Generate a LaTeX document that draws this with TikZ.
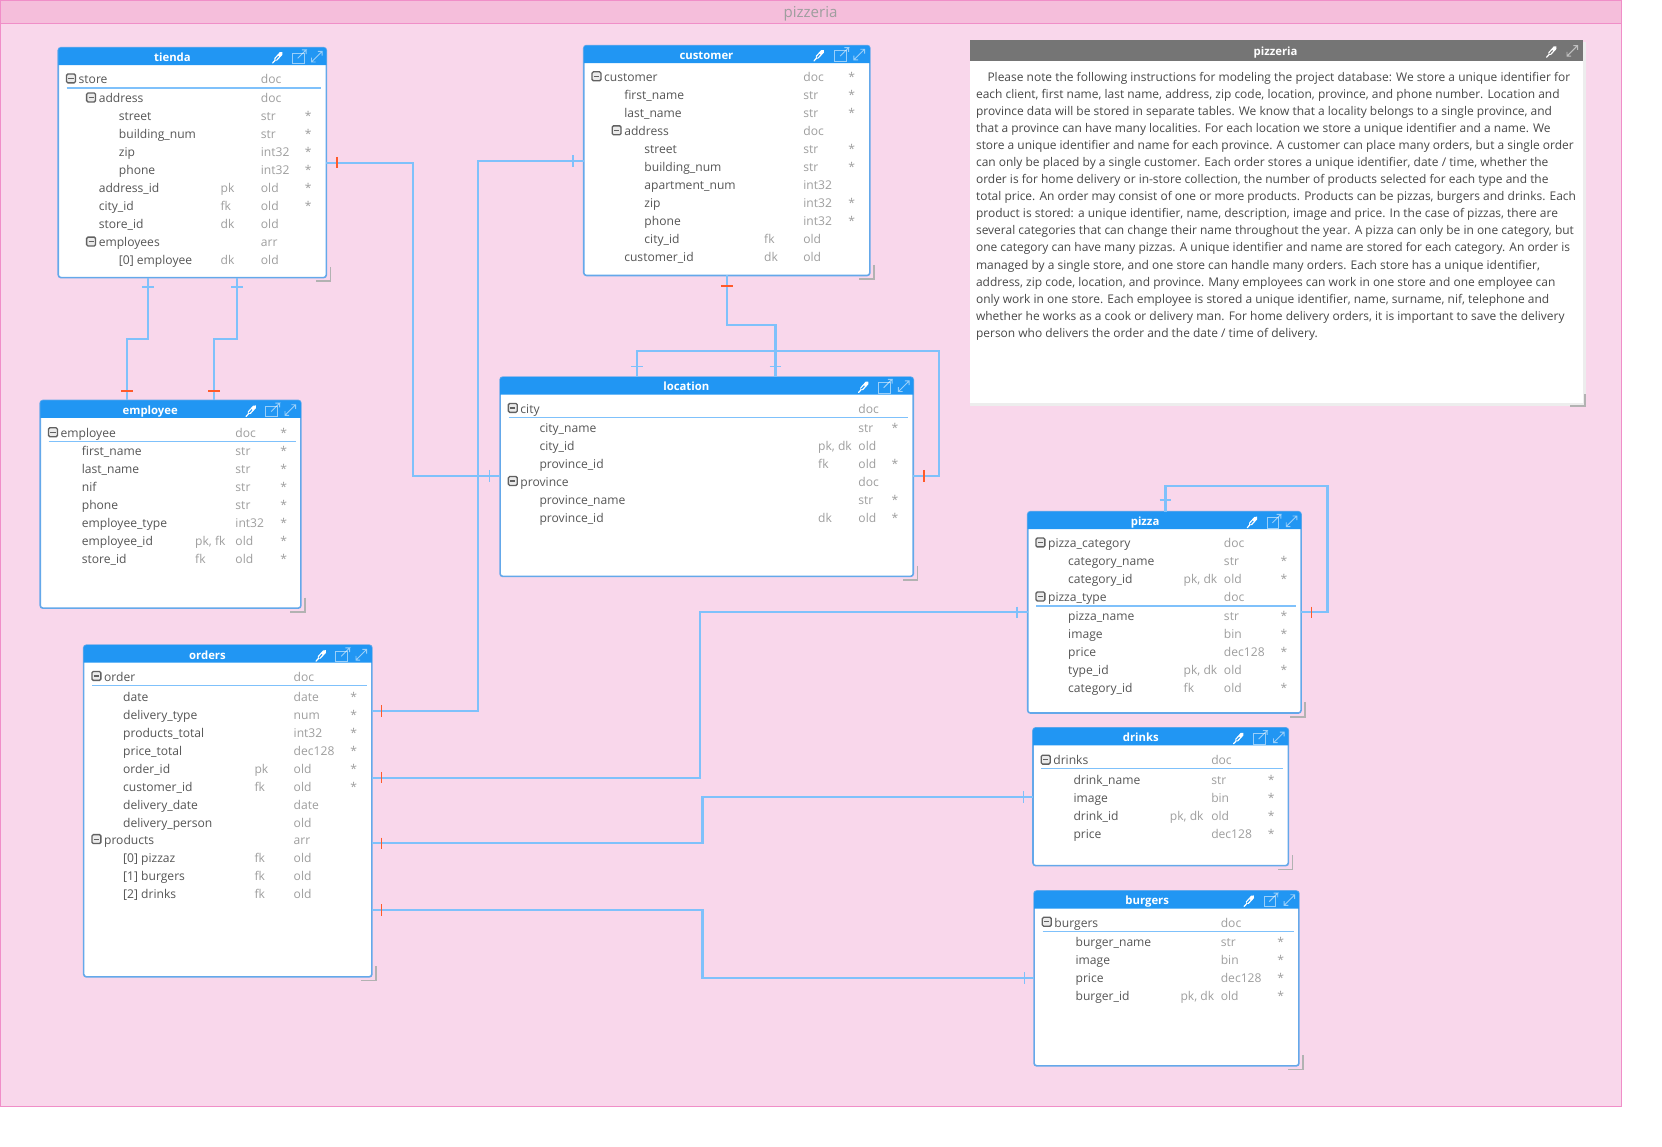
\documentclass[tikz,border=0pt]{standalone}
\usepackage{fontspec}
\setmainfont{Open Sans}
\definecolor{canvasbg}{HTML}{F9D7EB}
\definecolor{canvasbar}{HTML}{F5BEDB}
\definecolor{canvasline}{HTML}{F08EC8}
\definecolor{hdrblue}{HTML}{2196F3}
\definecolor{tblline}{HTML}{64A8EA}
\definecolor{connblue}{HTML}{7FC1FB}
\definecolor{tickred}{HTML}{FF5A2B}
\definecolor{txtmain}{HTML}{555555}
\definecolor{txtgrey}{HTML}{9E9E9E}
\definecolor{noteshead}{HTML}{757575}
\def\s{0.7946pt}
\newcounter{cellno}
\tikzset{
  tablebox/.style={draw=tblline,line width=1.2pt,fill=white,rounded corners=2pt,inner sep=0pt,outer sep=0pt},
  hdr/.style={fill=hdrblue},
  hdrtitle/.style={font=\fontsize{8.5pt}{11pt}\selectfont\bfseries,text=white,inner sep=0pt,anchor=base},
  celltext/.style={font=\fontsize{9.07pt}{11pt}\selectfont,text=txtmain,inner sep=0pt,anchor=base west},
  cellgrey/.style={celltext,text=txtgrey},
  conn/.style={draw=connblue,line width=1.6pt},
  tickb/.style={draw=connblue,line width=1.1pt},
  tickr/.style={draw=tickred,line width=1.1pt},
  handle/.style={draw=black!30,line width=1.2pt},
  ruleline/.style={draw=connblue,line width=1pt},
  minusbox/.style={draw=black!62,fill=black!8,line width=1pt,rounded corners=1pt},
  icon/.style={draw=white,line width=0.7pt,opacity=0.55},
}
\newcommand{\Dropper}[3]{%
  \draw[white,line width=2.8pt,line cap=round] (#1-2.2,#2+2.5) -- (#1+2.8,#2-3);
  \draw[#3,line width=0.8pt] (#1-2.4,#2+2.7) -- (#1+0.4,#2-0.4);
  \draw[white,line width=0.9pt,line cap=round] (#1-5.2,#2+6) -- (#1-3,#2+3.6);
}
\newcommand{\Icons}[4]{%
  \Dropper{#1+0.5}{#4}{hdrblue}
  % open in new window
  \draw[icon] (#2-6,#4-3.5) rectangle (#2+5,#4+6.5);
  \draw[icon] (#2-1,#4+1.5) -- (#2+7,#4-6.5) -- (#2+3,#4-6.5) (#2+7,#4-6.5) -- (#2+7,#4-2.5);
  % expand
  \draw[icon] (#3-5,#4+5) -- (#3+5,#4-5) (#3+1,#4-5) -- (#3+5,#4-5) -- (#3+5,#4-1) (#3-5,#4+1) -- (#3-5,#4+5) -- (#3-1,#4+5);
}
\newcommand{\Tbl}[7]{%
  \node[tablebox,minimum width={(#4-#2)*\s},minimum height={(#5-#3)*\s}] (#1) at ({(#2+#4)/2},{(#3+#5)/2}) {};
  \fill[hdr] (#2,#3+16.5) [rounded corners=2pt] -- (#2,#3) -- (#4,#3) [sharp corners] -- (#4,#3+16.5) -- cycle;
  \node[hdrtitle] (#1title) at (#7+0.8,#3+13) {#6};
  \draw[handle] (#4+4,#5-10) -- (#4+4,#5+3.5) -- (#4-10,#5+3.5);
}
\newcommand{\Cols}[3]{\def\kx{#1}\def\tx{#2}\def\sx{#3}}
% row: y, x, name, key, type, star(* or empty)
\newcommand{\Rw}[6]{%
  \stepcounter{cellno}\node[celltext] (c\arabic{cellno}) at (#2,#1+5) {#3};
  \if\relax\detokenize{#4}\relax\else\stepcounter{cellno}\node[cellgrey] (c\arabic{cellno}) at (\kx,#1+5) {#4};\fi
  \stepcounter{cellno}\node[cellgrey] (c\arabic{cellno}) at (\tx,#1+5) {#5};
  \if\relax\detokenize{#6}\relax\else\stepcounter{cellno}\node[cellgrey,anchor=base] (c\arabic{cellno}) at (\sx+0.8,#1+5) {*};\fi
}
% group row with minus box: y, boxx, name, type, star
\newcommand{\Gp}[5]{%
  \draw[minusbox] (#2-4.2,#1-4.2) rectangle (#2+4.2,#1+4.2);
  \draw[black!62,line width=0.9pt] (#2-2.4,#1) -- (#2+2.4,#1);
  \Rw{#1}{#2+7}{#3}{}{#4}{#5}
}
\newcommand{\TickV}[3]{\draw[#1] (#2,#3-5.5) -- (#2,#3+5.5);}
\newcommand{\TickH}[3]{\draw[#1] (#2-5.5,#3) -- (#2+5.5,#3);}
\begin{document}
\begin{tikzpicture}[x=\s,y=-\s]
\useasboundingbox (0,0) rectangle (1568.7,1082.5);
\fill[white] (0,0) rectangle (1568.7,1082.5);
\fill[canvasbg] (0,0) rectangle (1530.5,1044);
\fill[canvasbar] (0,0) rectangle (1530.5,22);
\draw[canvasline,line width=0.8pt] (0.4,0.4) rectangle (1530.5,1044);
\draw[canvasline,line width=0.8pt] (0,22) -- (1530.5,22);
\node[font=\fontsize{11.3pt}{13pt}\selectfont,text=txtgrey,inner sep=0pt,anchor=base] (canvastitle) at (765,16.5) {pizzeria};

% note
\fill[black!7] (916,40) rectangle (1497,383);
\node[fill=white,inner sep=0pt,outer sep=0pt,minimum width={578*\s},minimum height={342*\s}] (note) at (1205,209) {};
\fill[noteshead] (916,38) rectangle (1494,58);
\node[hdrtitle] (notetitle) at (1204,52.5) {pizzeria};
\Dropper{1465}{48}{noteshead}
\draw[icon] (1479,53) -- (1489,43) (1485,43) -- (1489,43) -- (1489,47) (1479,49) -- (1479,53) -- (1483,53);
\node[inner sep=0pt,anchor=north west,align=left,text=txtmain!85!black,font=\fontsize{8.98pt}{12.82pt}\selectfont] (notetext) at (921,67.6) {%
\hspace*{8.6pt}Please note the following instructions for modeling the project database: We store a unique identifier for\\
each client, first name, last name, address, zip code, location, province, and phone number. Location and\\
province data will be stored in separate tables. We know that a locality belongs to a single province, and\\
that a province can have many localities. For each location we store a unique identifier and a name. We\\
store a unique identifier and name for each province. A customer can place many orders, but a single order\\
can only be placed by a single customer. Each order stores a unique identifier, date / time, whether the\\
order is for home delivery or in-store collection, the number of products selected for each type and the\\
total price. An order may consist of one or more products. Products can be pizzas, burgers and drinks. Each\\
product is stored: a unique identifier, name, description, image and price. In the case of pizzas, there are\\
several categories that can change their name throughout the year. A pizza can only be in one category, but\\
one category can have many pizzas. A unique identifier and name are stored for each category. An order is\\
managed by a single store, and one store can handle many orders. Each store has a unique identifier,\\
address, zip code, location, and province. Many employees can work in one store and one employee can\\
only work in one store. Each employee is stored a unique identifier, name, surname, nif, telephone and\\
whether he works as a cook or delivery man. For home delivery orders, it is important to save the delivery\\
person who delivers the order and the date / time of delivery.};
\draw[handle] (1496,372) -- (1496,383) -- (1482,383);

% tienda
\Tbl{tienda}{55}{45}{308}{262}{tienda}{162}
\Icons{262}{282}{299}{53.5}
\Cols{208}{246}{290}
\Gp{74}{67}{store}{doc}{}
\draw[ruleline] (63,83) -- (303,83);
\Gp{92}{86}{address}{doc}{}
\Rw{109}{112}{street}{}{str}{*}
\Rw{126}{112}{building\_num}{}{str}{*}
\Rw{143}{112}{zip}{}{int32}{*}
\Rw{160}{112}{phone}{}{int32}{*}
\Rw{177}{93}{address\_id}{pk}{old}{*}
\Rw{194}{93}{city\_id}{fk}{old}{*}
\Rw{211}{93}{store\_id}{dk}{old}{}
\Gp{228}{86}{employees}{arr}{}
\Rw{245}{112}{[0] employee}{dk}{old}{}

% customer
\Tbl{customer}{551}{43}{821}{260}{customer}{666}
\Icons{773}{794}{811}{51.5}
\Cols{721}{758}{803}
\Gp{72}{563}{customer}{doc}{*}
\Rw{89}{589}{first\_name}{}{str}{*}
\Rw{106}{589}{last\_name}{}{str}{*}
\Gp{123}{582}{address}{doc}{}
\Rw{140}{608}{street}{}{str}{*}
\Rw{157}{608}{building\_num}{}{str}{*}
\Rw{174}{608}{apartment\_num}{}{int32}{}
\Rw{191}{608}{zip}{}{int32}{*}
\Rw{208}{608}{phone}{}{int32}{*}
\Rw{225}{608}{city\_id}{fk}{old}{}
\Rw{242}{589}{customer\_id}{dk}{old}{}

% location
\Tbl{location}{472}{356}{862}{544}{location}{647}
\Icons{815}{835}{853}{364.5}
\Cols{772}{810}{844}
\Gp{385}{484}{city}{doc}{}
\draw[ruleline] (480,394) -- (857,394);
\Rw{403}{509}{city\_name}{}{str}{*}
\Rw{420}{509}{city\_id}{pk, dk}{old}{}
\Rw{437}{509}{province\_id}{fk}{old}{*}
\Gp{454}{484}{province}{doc}{}
\Rw{471}{509}{province\_name}{}{str}{*}
\Rw{488}{509}{province\_id}{dk}{old}{*}

% employee
\Tbl{employee}{38}{378}{284}{574}{employee}{141}
\Icons{237}{257}{274}{387}
\Cols{184}{222}{267}
\Gp{408}{50}{employee}{doc}{*}
\draw[ruleline] (46,416.5) -- (279,416.5);
\Rw{425}{77}{first\_name}{}{str}{*}
\Rw{442}{77}{last\_name}{}{str}{*}
\Rw{459}{77}{nif}{}{str}{*}
\Rw{476}{77}{phone}{}{str}{*}
\Rw{493}{77}{employee\_type}{}{int32}{*}
\Rw{510}{77}{employee\_id}{pk, fk}{old}{*}
\Rw{527}{77}{store\_id}{fk}{old}{*}

% orders
\Tbl{orders}{79}{609}{351}{922}{orders}{195}
\Icons{303}{323}{341}{618}
\Cols{240}{277}{333}
\Gp{638}{91}{order}{doc}{}
\draw[ruleline] (87,647) -- (346,647);
\Rw{657}{116}{date}{}{date}{*}
\Rw{674}{116}{delivery\_type}{}{num}{*}
\Rw{691}{116}{products\_total}{}{int32}{*}
\Rw{708}{116}{price\_total}{}{dec128}{*}
\Rw{725}{116}{order\_id}{pk}{old}{*}
\Rw{742}{116}{customer\_id}{fk}{old}{*}
\Rw{759}{116}{delivery\_date}{}{date}{}
\Rw{776}{116}{delivery\_person}{}{old}{}
\Gp{792}{91}{products}{arr}{}
\Rw{809}{116}{[0] pizzaz}{fk}{old}{}
\Rw{826}{116}{[1] burgers}{fk}{old}{}
\Rw{843}{116}{[2] drinks}{fk}{old}{}

% pizza
\Tbl{pizza}{970}{483}{1228}{673}{pizza}{1080}
\Icons{1182}{1202}{1219}{492}
\Cols{1117}{1155}{1211}
\Gp{512}{982}{pizza\_category}{doc}{}
\Rw{529}{1008}{category\_name}{}{str}{*}
\Rw{546}{1008}{category\_id}{pk, dk}{old}{*}
\Gp{563}{982}{pizza\_type}{doc}{}
\draw[ruleline] (978,572) -- (1223,572);
\Rw{581}{1008}{pizza\_name}{}{str}{*}
\Rw{598}{1008}{image}{}{bin}{*}
\Rw{615}{1008}{price}{}{dec128}{*}
\Rw{632}{1008}{type\_id}{pk, dk}{old}{*}
\Rw{649}{1008}{category\_id}{fk}{old}{*}

% drinks
\Tbl{drinks}{975}{687}{1216}{817}{drinks}{1076}
\Icons{1169}{1189}{1207}{696}
\Cols{1104}{1143}{1199}
\Gp{717}{987}{drinks}{doc}{}
\draw[ruleline] (983,725.5) -- (1211,725.5);
\Rw{735}{1013}{drink\_name}{}{str}{*}
\Rw{752}{1013}{image}{}{bin}{*}
\Rw{769}{1013}{drink\_id}{pk, dk}{old}{*}
\Rw{786}{1013}{price}{}{dec128}{*}

% burgers
\Tbl{burgers}{976}{841}{1226}{1006}{burgers}{1082}
\Icons{1179}{1199}{1217}{849.5}
\Cols{1114}{1152}{1208}
\Gp{870}{988}{burgers}{doc}{}
\draw[ruleline] (984,879) -- (1221,879);
\Rw{888}{1015}{burger\_name}{}{str}{*}
\Rw{905}{1015}{image}{}{bin}{*}
\Rw{922}{1015}{price}{}{dec128}{*}
\Rw{939}{1015}{burger\_id}{pk, dk}{old}{*}

% connectors
\draw[conn] (tienda.east |- 0,153.5) -- (390,153.5) -- (390,449) -- (location.west |- 0,449);
\TickV{tickr}{318}{153.5}\TickV{tickb}{462}{449}
\draw[conn] (tienda.south -| 139.5,0) -- (139.5,320) -- (120,320) -- (employee.north -| 120,0);
\TickH{tickb}{139.5}{271}\TickH{tickr}{120}{369}
\draw[conn] (tienda.south -| 224,0) -- (224,320) -- (202,320) -- (employee.north -| 202,0);
\TickH{tickb}{224}{271}\TickH{tickr}{202}{369}
\draw[conn] (customer.south -| 686,0) -- (686,307) -- (732,307) -- (location.north -| 732,0);
\TickH{tickr}{686}{270}\TickH{tickb}{732}{346}
\draw[conn] (location.north -| 601,0) -- (601,331) -- (886,331) -- (886,449) -- (location.east |- 0,449);
\TickH{tickb}{601}{346}\TickV{tickr}{872}{449}
\draw[conn] (orders.east |- 0,671) -- (451,671) -- (451,152) -- (customer.west |- 0,152);
\TickV{tickr}{360}{671}\TickV{tickb}{541}{152}
\draw[conn] (orders.east |- 0,734) -- (661,734) -- (661,578) -- (pizza.west |- 0,578);
\TickV{tickr}{360}{734}\TickV{tickb}{960}{578}
\draw[conn] (orders.east |- 0,796) -- (663,796) -- (663,752) -- (drinks.west |- 0,752);
\TickV{tickr}{360}{796}\TickV{tickb}{966}{752}
\draw[conn] (orders.east |- 0,859) -- (663,859) -- (663,923) -- (burgers.west |- 0,923);
\TickV{tickr}{360}{859}\TickV{tickb}{967}{923}
\draw[conn] (pizza.north -| 1100,0) -- (1100,459) -- (1253,459) -- (1253,578) -- (pizza.east |- 0,578);
\TickH{tickb}{1100}{472}\TickV{tickr}{1238}{578}
\end{tikzpicture}
\end{document}
